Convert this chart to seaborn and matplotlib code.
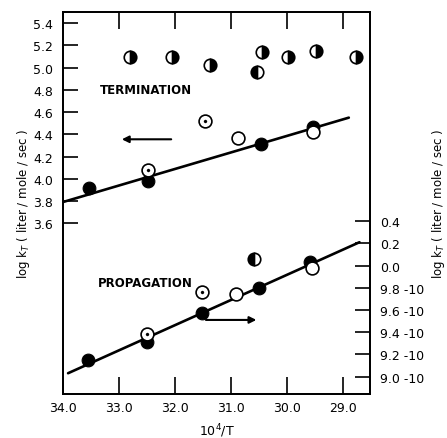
import matplotlib
matplotlib.use("Agg")
import matplotlib.pyplot as plt
import seaborn as sns

sns.set_theme(style="white")
plt.rcParams.update({
    'font.family': ['DejaVu Sans'],
    'axes.edgecolor': 'black',
    'axes.linewidth': 1.3,
    'axes.labelcolor': 'black',
    'text.color': 'black',
    'xtick.color': 'black',
    'ytick.color': 'black',
})

# termination, left axis (log kt)
term_filled_x = [33.54, 32.48, 30.46, 29.54]
term_filled_y = [3.92, 3.98, 4.31, 4.47]
term_dot_x = [32.48, 31.46]
term_dot_y = [4.08, 4.52]
term_open_x = [30.87, 29.54]
term_open_y = [4.37, 4.42]
term_half_x = [32.80, 32.05, 31.38, 30.45, 29.98, 29.48, 28.77]
term_half_y = [5.10, 5.10, 5.02, 5.14, 5.10, 5.15, 5.10]
term_halfl_x = [30.54]
term_halfl_y = [4.96]
term_fit_x = [34.0, 28.9]
term_fit_y = [3.79, 4.55]

# propagation, right axis (log kp, -0.2 is read as 9.8-10)
prop_filled_x = [33.55, 32.50, 31.52, 30.50, 29.59]
prop_filled_y = [-0.855, -0.69, -0.43, -0.20, 0.03]
prop_dot_x = [32.50, 31.52]
prop_dot_y = [-0.62, -0.24]
prop_open_x = [30.91, 29.55]
prop_open_y = [-0.26, -0.02]
prop_halfl_x = [30.59]
prop_halfl_y = [0.06]
prop_fit_x = [33.91, 28.71]
prop_fit_y = [-0.97, 0.21]

x_ticks = [34.0, 33.0, 32.0, 31.0, 30.0, 29.0]
left_ticks = [3.6, 3.8, 4.0, 4.2, 4.4, 4.6, 4.8, 5.0, 5.2, 5.4]
right_ticks = [0.4, 0.2, 0.0, -0.2, -0.4, -0.6, -0.8, -1.0]
right_labels = ["0.4", "0.2", "0.0", "9.8 -10", "9.6 -10", "9.4 -10", "9.2 -10", "9.0 -10"]

fig = plt.figure(figsize=(4.47, 4.39), dpi=100)
ax = fig.add_axes([0.141, 0.100, 0.687, 0.870])
ax2 = ax.twinx()

ylim_left = (2.06, 5.50)
offset = 3.218
ax.set_ylim(*ylim_left)
ax2.set_ylim(ylim_left[0] - offset, ylim_left[1] - offset)
ax.set_xlim(34.0, 28.52)

MS = 85


def draw_set(a, fx, fy, dx, dy, ox, oy, fit_x, fit_y):
    sns.lineplot(x=fit_x, y=fit_y, ax=a, color='black', linewidth=1.9, zorder=2)
    sns.scatterplot(x=fx, y=fy, ax=a, s=MS, color='black', edgecolor='black', zorder=3)
    sns.scatterplot(x=ox, y=oy, ax=a, s=MS, color='white', edgecolor='black',
                    linewidth=1.2, zorder=4)
    sns.scatterplot(x=dx, y=dy, ax=a, s=MS, color='white', edgecolor='black',
                    linewidth=1.2, zorder=4)
    sns.scatterplot(x=dx, y=dy, ax=a, s=5, color='black', edgecolor='black', zorder=5)


draw_set(ax, term_filled_x, term_filled_y, term_dot_x, term_dot_y,
         term_open_x, term_open_y, term_fit_x, term_fit_y)
draw_set(ax2, prop_filled_x, prop_filled_y, prop_dot_x, prop_dot_y,
         prop_open_x, prop_open_y, prop_fit_x, prop_fit_y)

# half filled circles
ax.plot(term_half_x, term_half_y, 'o', ls='none', ms=9, fillstyle='right',
        mfc='black', mfcalt='white', mec='black', mew=1.2, zorder=3)
ax.plot(term_halfl_x, term_halfl_y, 'o', ls='none', ms=9, fillstyle='left',
        mfc='black', mfcalt='white', mec='black', mew=1.2, zorder=3)
ax2.plot(prop_halfl_x, prop_halfl_y, 'o', ls='none', ms=9, fillstyle='left',
         mfc='black', mfcalt='white', mec='black', mew=1.2, zorder=3)

# annotations
ax.text(33.35, 4.80, "TERMINATION", fontsize=8.5, fontweight='bold',
        va='center', ha='left')
ax2.text(33.38, -0.15, "PROPAGATION", fontsize=8.5, fontweight='bold',
         va='center', ha='left')
ax.annotate("", xy=(33.0, 4.355), xytext=(32.02, 4.355),
            arrowprops=dict(arrowstyle='-|>', color='black', lw=1.5, mutation_scale=10))
ax2.annotate("", xy=(30.50, -0.49), xytext=(31.50, -0.49),
             arrowprops=dict(arrowstyle='-|>', color='black', lw=1.5, mutation_scale=10))

# ticks
ax.set_xticks(x_ticks)
ax.set_xticklabels([f"{t:.1f}" for t in x_ticks])
ax.set_yticks(left_ticks)
ax.set_yticklabels([f"{t:.1f}" for t in left_ticks])
ax2.set_yticks(right_ticks)
ax2.set_yticklabels(right_labels)

ax.tick_params(axis='x', direction='in', length=12, width=1.2, top=True,
               bottom=True, labelsize=9, pad=5)
ax.tick_params(axis='y', direction='in', length=11, width=1.2, left=True,
               right=False, labelsize=9, pad=7)
ax2.tick_params(axis='y', direction='in', length=11, width=1.2, right=True,
                labelsize=9, pad=7)

ax.set_xlabel("10$^4$/T", fontsize=9, labelpad=5)
ax.set_ylabel("log k$_T$ ( liter / mole / sec )", fontsize=8.5, labelpad=1)
ax2.set_ylabel("log k$_T$ ( liter / mole / sec )", fontsize=8.5, labelpad=4)

for s in ax2.spines.values():
    s.set_linewidth(1.3)

fig.savefig("out.png", dpi=100)
